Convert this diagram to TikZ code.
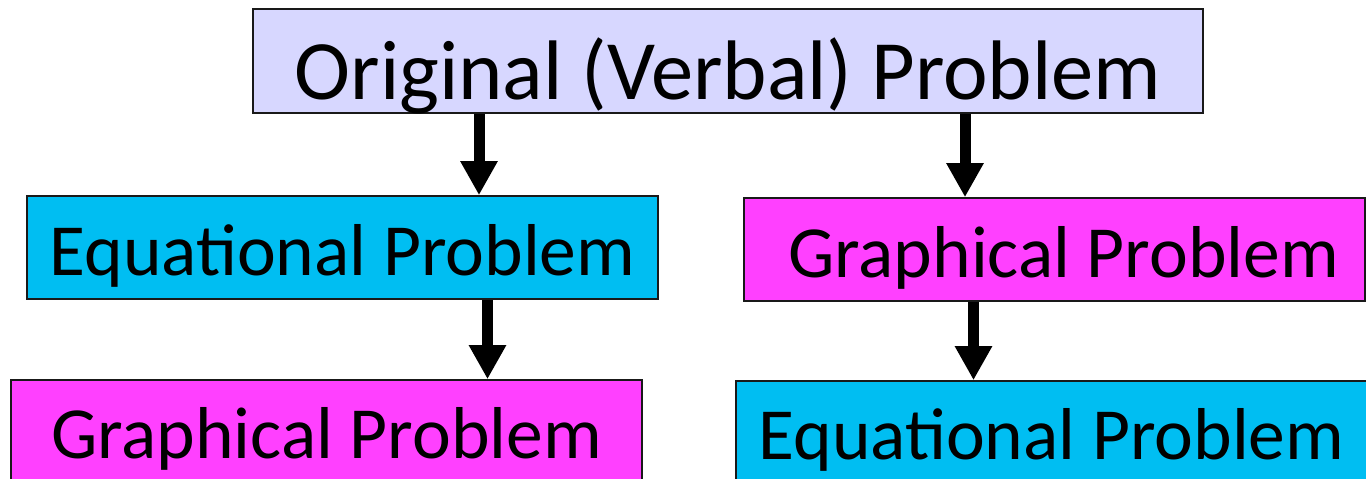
\documentclass[tikz,border=0pt]{standalone}
\usepackage{fontspec}
\setmainfont{Carlito}
\usetikzlibrary{arrows.meta}
\definecolor{lav}{HTML}{D7D7FF}
\definecolor{cyanbox}{HTML}{00BEF2}
\definecolor{magbox}{HTML}{FF40FF}
\tikzset{
  box/.style={draw=black!90, line width=1.6pt, inner sep=0pt, rectangle, text depth=0pt},
  bigtext/.style={font=\fontsize{84.5pt}{90pt}\selectfont},
  midtext/.style={font=\fontsize{73.5pt}{80pt}\selectfont},
  arr/.style={line width=11pt, -{Triangle[width=35pt,length=34pt]}},
}
\begin{document}
\begin{tikzpicture}[x=1pt,y=-1pt]
\useasboundingbox (0,0) rectangle (1366,479);
\node[box, fill=lav, bigtext, minimum width=950pt, minimum height=104pt, text height=76pt] (top) at (728,61) {Original (Verbal) Problem};
\node[box, fill=cyanbox, midtext, minimum width=631pt, minimum height=103pt, text height=55pt] (eqL) at (342.5,247.5) {Equational Problem};
\node[box, fill=magbox, midtext, minimum width=621pt, minimum height=103pt, text height=55pt] (grR) at (1054.5,249.5) {\hspace{18pt}Graphical Problem};
\node[box, fill=magbox, midtext, minimum width=631pt, minimum height=103pt, text height=53pt] (grL) at (326.5,431.5) {Graphical Problem};
\node[box, fill=cyanbox, midtext, minimum width=631pt, minimum height=103pt, text height=53pt] (eqR) at (1051.5,432.5) {Equational Problem};
\draw[arr] ([xshift=-249pt]top.south) -- ([xshift=136.5pt]eqL.north);
\draw[arr] ([xshift=237pt]top.south) -- ([xshift=-89.5pt]grR.north);
\draw[arr] ([xshift=145pt]eqL.south) -- ([xshift=161pt]grL.north);
\draw[arr] ([xshift=-81pt]grR.south) -- ([xshift=-78pt]eqR.north);
\end{tikzpicture}
\end{document}
